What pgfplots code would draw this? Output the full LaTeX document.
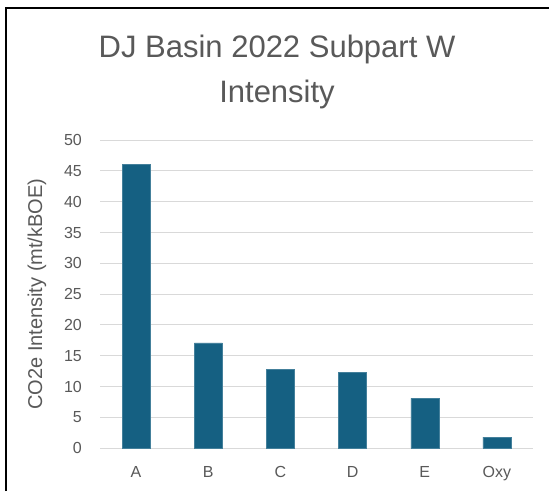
\documentclass[border=0pt]{standalone}
\usepackage{fontspec}
\setmainfont{Liberation Sans}
\usepackage{pgfplots}
\pgfplotsset{compat=1.18}
\definecolor{txt}{HTML}{595959}
\definecolor{gridcol}{HTML}{D9D9D9}
\definecolor{barcol}{HTML}{156082}
\begin{document}
\begin{tikzpicture}
\useasboundingbox (0pt,0pt) rectangle (549pt,491pt);
\fill[white] (0pt,0pt) rectangle (549pt,491pt);
\draw[black, line width=2pt] (6pt,0pt) -- (6pt,483pt) -- (549pt,483pt);
\node[anchor=base, text=txt, font=\fontsize{31}{45}\selectfont] at (277pt,433pt) {DJ Basin 2022 Subpart W};
\node[anchor=base, text=txt, font=\fontsize{31}{45}\selectfont] at (277pt,388pt) {Intensity};
\begin{axis}[
  at={(100pt,42.7pt)}, anchor=south west,
  scale only axis, width=433pt, height=308.3pt,
  xmin=-0.5, xmax=5.5, ymin=0, ymax=50,
  ytick={0,5,...,50},
  xtick={0,1,2,3,4,5},
  xticklabels={A,B,C,D,E,Oxy},
  axis line style={draw=none},
  major tick length=0pt,
  ymajorgrids, grid style={gridcol, line width=1pt},
  /pgf/number format/assume math mode=true,
  tick label style={font=\fontsize{16}{19}\selectfont, text=txt, inner sep=0pt},
  yticklabel style={anchor=east, xshift=-18pt},
  xticklabel style={anchor=north, yshift=-18pt},
  ylabel={CO2e Intensity (mt/kBOE)},
  every axis y label/.style={at={(axis description cs:0,0.5)}, xshift=-63pt, rotate=90, anchor=center, font=\fontsize{20}{24}\selectfont, text=txt},
  clip=false,
]
\addplot[ybar, bar width=28pt, fill=barcol, draw=barcol!80!white, line width=0.5pt] coordinates {
  (0,46.1) (1,17.1) (2,12.8) (3,12.3) (4,8.1) (5,1.8)
};
\end{axis}
\end{tikzpicture}
\end{document}
